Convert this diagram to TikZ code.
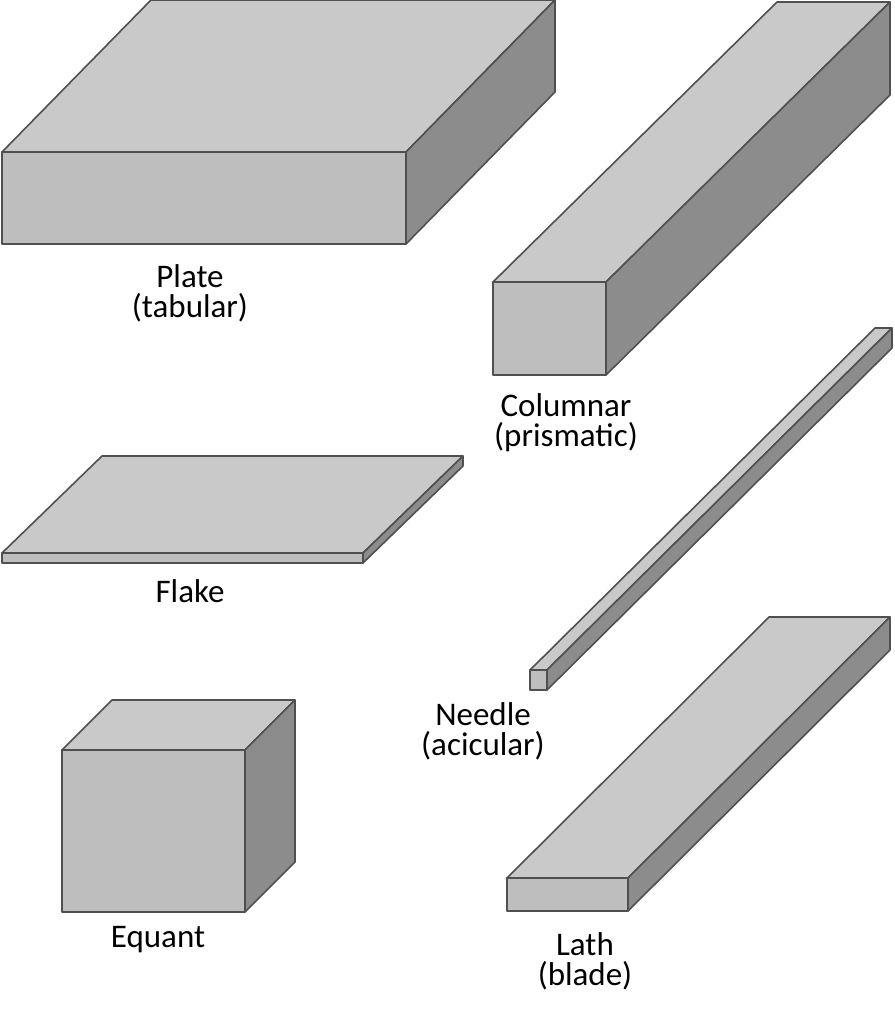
\documentclass[tikz,border=0pt]{standalone}
\usepackage{fontspec}
\setmainfont{Carlito}
\newcommand\crbox[6]{% x1 y1 x2 y2 dx dy (dy upward = negative y)
 \fill[topc,draw=edgec,line join=round] (#1,#2) -- (#3,#2) -- ++(#5,-#6) -- ++(-#3+#1,0) -- cycle;
 \fill[sidec,draw=edgec,line join=round] (#3,#2) -- ++(#5,-#6) -- ++(0,#4-#2) -- (#3,#4) -- cycle;
 \fill[frontc,draw=edgec,line join=round] (#1,#2) rectangle (#3,#4);
}
\definecolor{topc}{HTML}{C9C9C9}
\definecolor{frontc}{HTML}{BEBEBE}
\definecolor{sidec}{HTML}{8C8C8C}
\definecolor{edgec}{HTML}{505050}
\begin{document}
\begin{tikzpicture}[x=1pt,y=-1pt,line width=1.6pt,
 lab/.style={font=\fontsize{33}{30}\selectfont,align=center,text=black}]
\useasboundingbox[fill=white] (0,0) rectangle (894,1024);
\crbox{2}{152}{406}{244}{149}{152}
\crbox{493}{282}{606}{375}{284}{280}
\crbox{530}{670}{547}{690}{345}{342}
\crbox{2}{553}{363}{563}{100}{97}
\crbox{62}{750}{245}{912}{50}{50}
\crbox{507}{878}{628}{911}{262}{261}
\node[lab] (plate) at (190,293) {Plate\\(tabular)};
\node[lab] (col) at (566,423) {Columnar\\(prismatic)};
\node[lab] (flake) at (190,591) {Flake};
\node[lab] (needle) at (483,731) {Needle\\(acicular)};
\node[lab] (equant) at (158,940) {Equant};
\node[lab] (lath) at (585,961) {Lath\\(blade)};
\end{tikzpicture}
\end{document}
